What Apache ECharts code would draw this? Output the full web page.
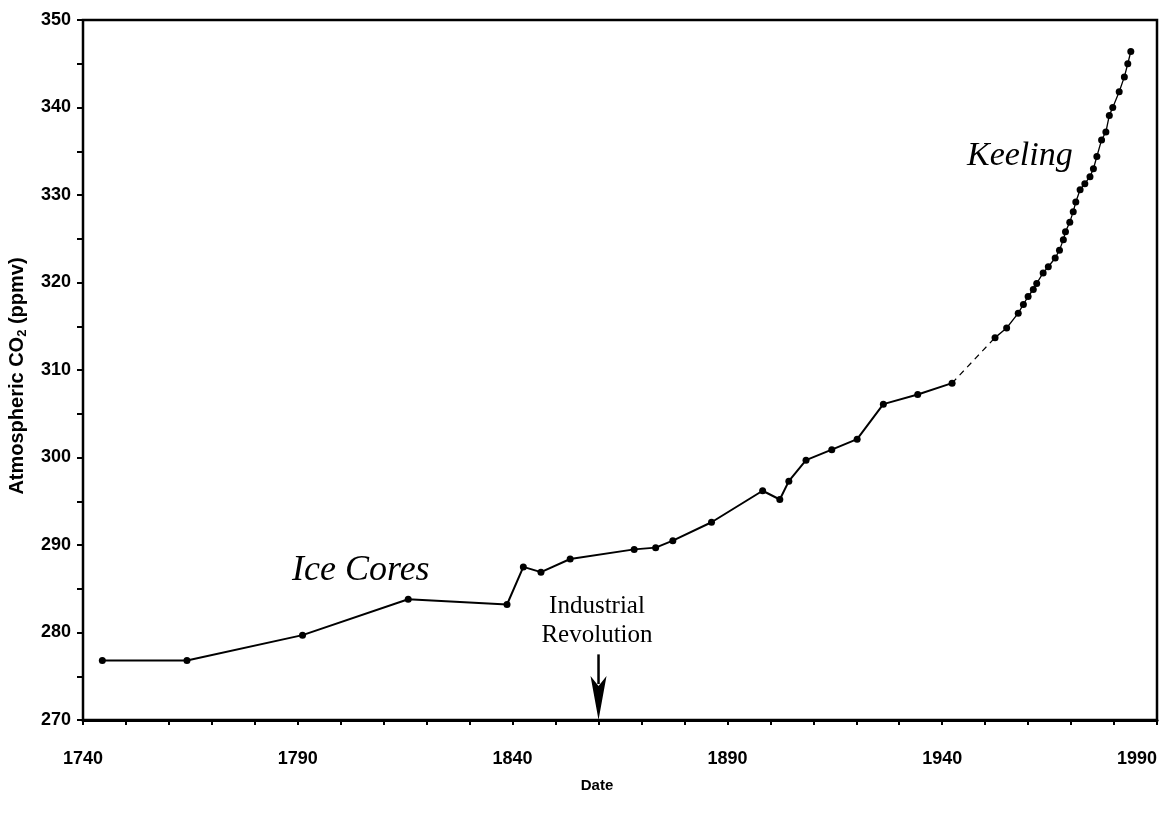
<!DOCTYPE html>
<html>
<head>
<meta charset="utf-8">
<script src="https://cdn.jsdelivr.net/npm/echarts@6/dist/echarts.min.js"></script>
<style>
html,body{margin:0;padding:0;background:#fff;}
#chart{width:1161px;height:825px;}
</style>
</head>
<body>
<div id="chart"></div>
<script>
// Ice core record (Siple Station)
const iceYears = [1744.5, 1764.2, 1791.1, 1815.7, 1838.7, 1842.5, 1846.6, 1853.4, 1868.3, 1873.3, 1877.3, 1886.3, 1898.2, 1902.2, 1904.3, 1908.3, 1914.3, 1920.2, 1926.3, 1934.3, 1942.3];
const iceCO2   = [276.8, 276.8, 279.7, 283.8, 283.2, 287.5, 286.9, 288.4, 289.5, 289.7, 290.5, 292.6, 296.2, 295.2, 297.3, 299.7, 300.9, 302.1, 306.1, 307.2, 308.5];

// Keeling (Mauna Loa) record
const keelingYears = [1952.3, 1955.0, 1957.7, 1958.9, 1960.0, 1961.2, 1962.0, 1963.5, 1964.7, 1966.3, 1967.3, 1968.2, 1968.7, 1969.7, 1970.5, 1971.1, 1972.1, 1973.2, 1974.4, 1975.2, 1976.0, 1977.1, 1978.1, 1978.9, 1979.7, 1981.2, 1982.4, 1983.2, 1983.9];
const keelingCO2   = [313.7, 314.8, 316.5, 317.5, 318.4, 319.2, 319.9, 321.1, 321.8, 322.8, 323.7, 324.9, 325.8, 326.9, 328.1, 329.2, 330.6, 331.3, 332.1, 333.0, 334.4, 336.3, 337.2, 339.1, 340.0, 341.8, 343.5, 345.0, 346.4];

// Axis settings
const xMin = 1740, xMax = 1990, xTickStep = 10, xLabelStep = 50;
const yMin = 270, yMax = 350, yTickStep = 5, yLabelStep = 10;

// Annotation
const industrialYear = 1860;
const arrowTopValue = 277.5;

const iceData = iceYears.map((y, i) => [y, iceCO2[i]]);
const keelingData = keelingYears.map((y, i) => [y, keelingCO2[i]]);
const gapData = [iceData[iceData.length - 1], keelingData[0]];

const chart = echarts.init(document.getElementById('chart'), null, {renderer: 'canvas'});

const labelFont = {fontFamily: '"Liberation Sans", Arial, sans-serif', fontWeight: 'bold', fontSize: 18, color: '#000'};

chart.setOption({
  animation: false,
  backgroundColor: '#fff',
  grid: {left: 83, right: 4, top: 20, bottom: 105, containLabel: false, outerBoundsMode: 'none',
         show: true, borderColor: '#000', borderWidth: 2.5},
  xAxis: {
    type: 'value', min: xMin, max: xMax, interval: xTickStep,
    axisLine: {lineStyle: {color: '#000', width: 3}},
    axisTick: {show: true, length: 5, lineStyle: {color: '#000', width: 2}},
    splitLine: {show: false},
    axisLabel: Object.assign({margin: 30, showMaxLabel: true, showMinLabel: true, alignMaxLabel: 'right',
      formatter: v => ((v - xMin) % xLabelStep === 0 ? String(v) : '')}, labelFont)
  },
  yAxis: {
    type: 'value', min: yMin, max: yMax, interval: yTickStep,
    axisLine: {lineStyle: {color: '#000', width: 2}},
    axisTick: {show: true, length: 6, lineStyle: {color: '#000', width: 2}},
    splitLine: {show: false},
    axisLabel: Object.assign({margin: 12, formatter: v => (v % yLabelStep === 0 ? String(v) : '')}, labelFont),
    name: 'Atmospheric CO{sub|2} (ppmv)',
    nameLocation: 'middle',
    nameGap: 54,
    nameTextStyle: {
      fontFamily: '"Liberation Sans", Arial, sans-serif', fontWeight: 'bold', fontSize: 20, color: '#000',
      padding: [0, 12, 0, 0],
      rich: {sub: {fontFamily: '"Liberation Sans", Arial, sans-serif', fontWeight: 'bold', fontSize: 13, color: '#000', padding: [11, 0, 0, 0]}}
    }
  },
  series: [
    {
      name: 'Ice Cores', type: 'line', data: iceData,
      symbol: 'circle', symbolSize: 7,
      itemStyle: {color: '#000'}, lineStyle: {color: '#000', width: 2}, z: 3
    },
    {
      name: 'gap', type: 'line', data: gapData, symbol: 'none',
      lineStyle: {color: '#000', width: 1.2, type: [6, 5]}, z: 2
    },
    {
      name: 'Keeling', type: 'line', data: keelingData,
      symbol: 'circle', symbolSize: 7,
      itemStyle: {color: '#000'}, lineStyle: {color: '#000', width: 1.3}, z: 3
    }
  ]
});

const pTop = chart.convertToPixel({gridIndex: 0}, [industrialYear, arrowTopValue]);
const pTip = chart.convertToPixel({gridIndex: 0}, [industrialYear, yMin]);
const ax = pTop[0], tipY = pTip[1];
const headH = 44, headW = 8;

chart.setOption({
  graphic: [
    {type: 'line', shape: {x1: ax, y1: pTop[1], x2: ax, y2: tipY - headH + 8}, style: {stroke: '#000', lineWidth: 2.5}},
    {type: 'polygon', shape: {points: [[ax - headW, tipY - headH], [ax, tipY - headH + 10], [ax + headW, tipY - headH], [ax, tipY]]}, style: {fill: '#000'}},
    {type: 'text', left: 292, top: 553, style: {text: 'Ice Cores', font: 'italic 36px "Liberation Serif", "Times New Roman", serif', fill: '#000'}},
    {type: 'text', left: 967, top: 139, style: {text: 'Keeling', font: 'italic 34px "Liberation Serif", "Times New Roman", serif', fill: '#000'}},
    {type: 'text', x: 597, y: 592, style: {text: 'Industrial\nRevolution', font: '25px "Liberation Serif", "Times New Roman", serif', fill: '#000', align: 'center', lineHeight: 29}},
    {type: 'text', x: 597, y: 778, style: {text: 'Date', font: 'bold 15px "Liberation Sans", Arial, sans-serif', fill: '#000', align: 'center'}}
  ]
});
</script>
</body>
</html>
